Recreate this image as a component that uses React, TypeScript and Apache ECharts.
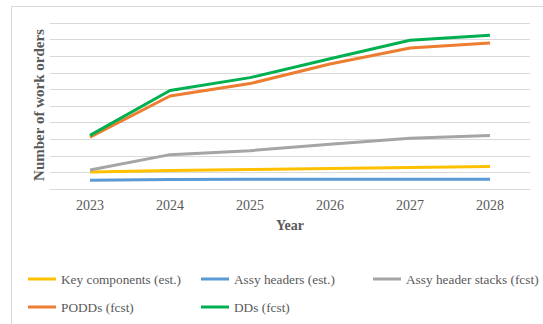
import React, { useEffect, useRef } from "react";
import * as echarts from "echarts";

const years = ["2023", "2024", "2025", "2026", "2027", "2028"];
const keyComponents = [102, 111, 117, 123, 129, 135];
const assyHeaders = [52, 57, 58, 58, 58, 58];
const assyHeaderStacks = [114, 207, 231, 269, 305, 322];
const podds = [313, 560, 635, 753, 849, 880];
const dds = [323, 593, 671, 785, 896, 926];

const seriesNames = [
  "Key components (est.)",
  "Assy headers (est.)",
  "Assy header stacks (fcst)",
  "PODDs (fcst)",
  "DDs (fcst)",
];
const seriesData = [keyComponents, assyHeaders, assyHeaderStacks, podds, dds];
const seriesColors = ["#FFC000", "#5B9BD5", "#A5A5A5", "#ED7D31", "#00B050"];

const FONT = "Liberation Serif, Times New Roman, serif";

export default function App() {
  const ref = useRef<HTMLDivElement>(null);
  useEffect(() => {
    if (!ref.current) return;
    const chart = echarts.init(ref.current, null, { renderer: "svg" });
    const legendPos = [
      { left: 28, top: 272 },
      { left: 201, top: 272 },
      { left: 373, top: 272 },
      { left: 28, top: 300 },
      { left: 201, top: 300 },
    ];
    chart.setOption({
      animation: false,
      backgroundColor: "#ffffff",
      textStyle: { fontFamily: FONT },
      grid: { left: 50, top: 23, width: 480, height: 166, containLabel: false },
      xAxis: {
        type: "category",
        data: years,
        boundaryGap: true,
        axisLine: { lineStyle: { color: "#d9d9d9", width: 1 } },
        axisTick: { show: false },
        axisLabel: { color: "#595959", fontSize: 14, fontFamily: FONT, margin: 9 },
      },
      yAxis: {
        type: "value",
        min: 0,
        max: 1000,
        interval: 100,
        axisLine: { show: false },
        axisTick: { show: false },
        axisLabel: { show: false },
        splitLine: { lineStyle: { color: "#d9d9d9", width: 1 } },
      },
      legend: seriesNames.map((n, i) => ({
        data: [n],
        left: legendPos[i].left,
        top: legendPos[i].top,
        padding: 0,
        itemWidth: 28,
        itemHeight: 3,
        icon: "rect",
        selectedMode: false,
        textStyle: { color: "#595959", fontSize: 13.3, fontFamily: FONT, lineHeight: 14 },
      })),
      series: seriesNames.map((n, i) => ({
        name: n,
        type: "line",
        data: seriesData[i],
        symbol: "none",
        color: seriesColors[i],
        lineStyle: { width: 3, color: seriesColors[i] },
        z: 2 + i,
      })),
      graphic: [
        {
          type: "rect",
          shape: { x: 11.5, y: 6.5, width: 700, height: 400 },
          style: { fill: "none", stroke: "#d9d9d9", lineWidth: 1 },
          silent: true,
          z: -1,
        },
        {
          type: "text",
          x: 39,
          y: 105,
          rotation: Math.PI / 2,
          style: {
            text: "Number of work orders",
            fill: "#595959",
            font: `bold 15px ${FONT}`,
            align: "center",
            verticalAlign: "middle",
          },
        },
        {
          type: "text",
          x: 290,
          y: 225,
          style: {
            text: "Year",
            fill: "#595959",
            font: `bold 14px ${FONT}`,
            align: "center",
            verticalAlign: "middle",
          },
        },
      ],
    });
    return () => chart.dispose();
  }, []);
  return (
    <div
      ref={ref}
      style={{ position: "fixed", left: 0, top: 0, width: 543, height: 324, background: "#fff" }}
    />
  );
}
